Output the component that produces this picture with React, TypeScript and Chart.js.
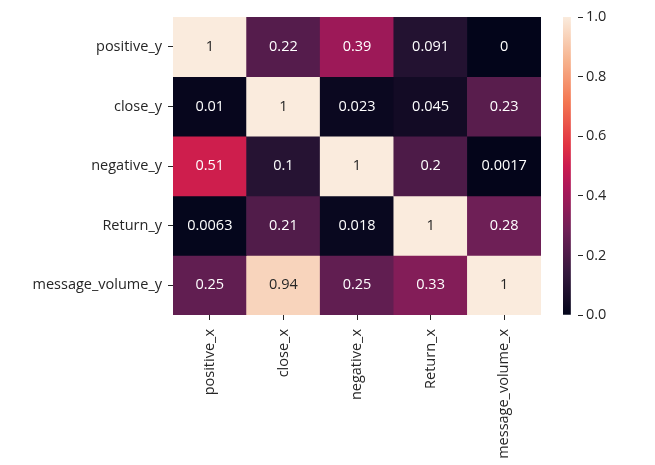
import React, { useEffect, useRef } from "react";
import { Chart, registerables } from "chart.js";

Chart.register(...registerables);

const columnLabels = ["positive_x", "close_x", "negative_x", "Return_x", "message_volume_x"];
const rowLabels = ["positive_y", "close_y", "negative_y", "Return_y", "message_volume_y"];
const cellValues: number[][] = [
  [1, 0.22, 0.39, 0.091, 0],
  [0.01, 1, 0.023, 0.045, 0.23],
  [0.51, 0.1, 1, 0.2, 0.0017],
  [0.0063, 0.21, 0.018, 1, 0.28],
  [0.25, 0.94, 0.25, 0.33, 1],
];
const cellTexts: string[][] = [
  ["1", "0.22", "0.39", "0.091", "0"],
  ["0.01", "1", "0.023", "0.045", "0.23"],
  ["0.51", "0.1", "1", "0.2", "0.0017"],
  ["0.0063", "0.21", "0.018", "1", "0.28"],
  ["0.25", "0.94", "0.25", "0.33", "1"],
];
const colorbarTicks = [0, 0.2, 0.4, 0.6, 0.8, 1.0];

// rocket colormap stops
const cmapPos = [0, 1 / 7, 2 / 7, 3 / 7, 0.5, 4 / 7, 5 / 7, 6 / 7, 1];
const cmapRgb: number[][] = [
  [3, 5, 26],
  [53, 25, 62],
  [112, 31, 87],
  [173, 23, 89],
  [203, 27, 79],
  [225, 51, 66],
  [243, 118, 81],
  [246, 180, 143],
  [250, 235, 221],
];

function rocketRgb(v: number): number[] {
  const t = Math.max(0, Math.min(1, v));
  for (let i = 0; i < cmapPos.length - 1; i++) {
    if (t <= cmapPos[i + 1]) {
      const f = (t - cmapPos[i]) / (cmapPos[i + 1] - cmapPos[i]);
      const a = cmapRgb[i], b = cmapRgb[i + 1];
      return a.map((x, k) => x + (b[k] - x) * f);
    }
  }
  return cmapRgb[cmapRgb.length - 1];
}

function rocket(v: number): string {
  const c = rocketRgb(v).map((x) => Math.round(x));
  return `rgb(${c[0]},${c[1]},${c[2]})`;
}

function isLight(v: number): boolean {
  const lin = rocketRgb(v).map((c) => {
    const s = c / 255;
    return s <= 0.03928 ? s / 12.92 : Math.pow((s + 0.055) / 1.055, 2.4);
  });
  const lum = 0.2126 * lin[0] + 0.7152 * lin[1] + 0.0722 * lin[2];
  return lum > 0.408;
}

const FONT = "'Open Sans', 'DejaVu Sans', sans-serif";
const TEXT = "#262626";
const FS = 14.5;

export default function App() {
  const heatRef = useRef<HTMLCanvasElement>(null);
  const barRef = useRef<HTMLCanvasElement>(null);

  useEffect(() => {
    const annotate = {
      id: "annotate",
      afterDatasetsDraw(chart: any) {
        const ctx = chart.ctx;
        ctx.save();
        ctx.font = `${FS}px ${FONT}`;
        ctx.textAlign = "center";
        ctx.textBaseline = "middle";
        rowLabels.forEach((_, r) => {
          const meta = chart.getDatasetMeta(r);
          meta.data.forEach((bar: any, c: number) => {
            const v = cellValues[r][c];
            ctx.fillStyle = isLight(v) ? TEXT : "#ffffff";
            const cy = (bar.y + bar.base) / 2;
            ctx.fillText(cellTexts[r][c], bar.x, cy);
          });
        });
        ctx.restore();
      },
    };

    const heat = new Chart(heatRef.current!, {
      type: "bar",
      data: {
        labels: columnLabels,
        datasets: rowLabels.map((name, r) => ({
          label: name,
          data: columnLabels.map(() => [r, r + 1]) as any,
          backgroundColor: cellValues[r].map((v) => rocket(v)),
          borderWidth: 0,
          barPercentage: 1,
          categoryPercentage: 1,
          grouped: false,
        })),
      },
      options: {
        animation: false,
        responsive: false,
        maintainAspectRatio: false,
        layout: { padding: { top: 17, right: 19, left: 0, bottom: 0 } },
        plugins: { legend: { display: false }, tooltip: { enabled: false } },
        scales: {
          x: {
            type: "category",
            offset: true,
            grid: { offset: false, drawOnChartArea: false, drawTicks: true, tickLength: 5, color: TEXT, tickWidth: 1 },
            border: { display: false },
            ticks: { color: TEXT, font: { family: FONT, size: FS }, minRotation: 90, maxRotation: 90, padding: 9, autoSkip: false },
            afterFit: (s: any) => { s.height = 150; },
          },
          y: {
            type: "linear",
            min: 0,
            max: 5,
            reverse: true,
            afterBuildTicks: (s: any) => { s.ticks = rowLabels.map((_, i) => ({ value: i + 0.5 })); },
            grid: { drawOnChartArea: false, drawTicks: true, tickLength: 5, color: TEXT, tickWidth: 1 },
            border: { display: false },
            ticks: {
              color: TEXT,
              font: { family: FONT, size: FS },
              padding: 6,
              autoSkip: false,
              callback: (v: any) => rowLabels[Math.floor(Number(v))] ?? "",
            },
            afterFit: (s: any) => { s.width = 173; },
          },
        },
      },
      plugins: [annotate],
    });

    const bar = new Chart(barRef.current!, {
      type: "bar",
      data: {
        labels: ["cb"],
        datasets: [
          {
            data: [[0, 1]] as any,
            barPercentage: 1,
            categoryPercentage: 1,
            borderWidth: 0,
            backgroundColor: (ctx: any) => {
              const ca = ctx.chart.chartArea;
              if (!ca) return "#000";
              const g = ctx.chart.ctx.createLinearGradient(0, ca.bottom, 0, ca.top);
              for (let i = 0; i <= 42; i++) {
                const p = i / 42;
                g.addColorStop(p, rocket(p));
              }
              return g;
            },
          },
        ],
      },
      options: {
        animation: false,
        responsive: false,
        maintainAspectRatio: false,
        layout: { padding: { top: 17, left: 23, bottom: 150, right: 0 } },
        plugins: { legend: { display: false }, tooltip: { enabled: false } },
        scales: {
          x: { display: false, offset: false },
          y: {
            type: "linear",
            position: "right",
            min: 0,
            max: 1,
            afterBuildTicks: (s: any) => { s.ticks = colorbarTicks.map((v) => ({ value: v })); },
            grid: { drawOnChartArea: false, drawTicks: true, tickLength: 5, color: TEXT },
            border: { display: false },
            ticks: { color: TEXT, font: { family: FONT, size: FS }, padding: 3, callback: (v: any) => Number(v).toFixed(1) },
            afterFit: (s: any) => { s.width = 77; },
          },
        },
      },
    });

    return () => {
      heat.destroy();
      bar.destroy();
    };
  }, []);

  return (
    <div style={{ position: "fixed", left: 0, top: 0, width: 655, height: 465, background: "#fff" }}>
      <canvas ref={heatRef} width={560} height={465} style={{ position: "absolute", left: 0, top: 0, width: 560, height: 465 }} />
      <canvas ref={barRef} width={115} height={465} style={{ position: "absolute", left: 540, top: 0, width: 115, height: 465 }} />
    </div>
  );
}
